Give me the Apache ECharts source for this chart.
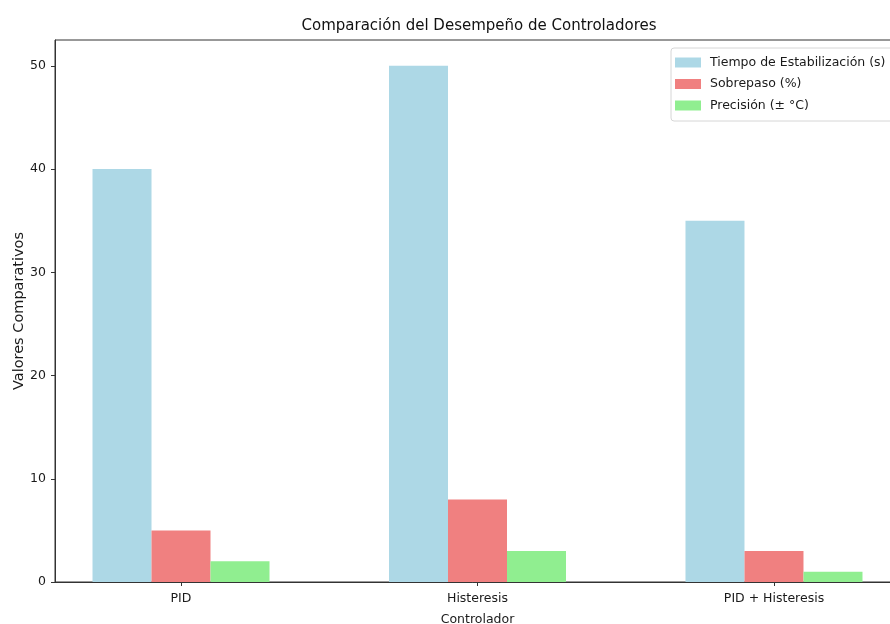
<!DOCTYPE html>
<html>
<head>
<meta charset="utf-8">
<script src="https://cdn.jsdelivr.net/npm/echarts@6/dist/echarts.min.js"></script>
<style>
  html, body { margin: 0; padding: 0; background: #fff; }
  #chart { width: 890px; height: 624px; }
</style>
</head>
<body>
<div id="chart"></div>
<script>
const categories = ["PID", "Histeresis", "PID + Histeresis"];
const seriesNames = ["Tiempo de Estabilización (s)", "Sobrepaso (%)", "Precisión (± °C)"];
const tiempo = [40, 50, 35];
const sobrepaso = [5, 8, 3];
const precision = [2, 3, 1];
const yTicks = [0, 10, 20, 30, 40, 50];

const colors = ["#ADD8E6", "#F08080", "#90EE90"];
const font = "DejaVu Sans";
const chart = echarts.init(document.getElementById("chart"));

// categories sit at integer positions on a value axis, like matplotlib
const xPositions = categories.map((c, i) => i);
const toPoints = (vals) => vals.map((v, i) => [xPositions[i], v]);

chart.setOption({
  animation: false,
  title: {
    text: "Comparación del Desempeño de Controladores",
    left: 474, top: 14, textAlign: "center",
    textStyle: { fontFamily: font, fontSize: 15, fontWeight: "normal", color: "#111" }
  },
  legend: {
    orient: "vertical",
    left: 671, top: 48,
    padding: [8, 8, 9, 4],
    itemWidth: 26, itemHeight: 10, itemGap: 8.5,
    backgroundColor: "#fff",
    borderColor: "#d6d6d6", borderWidth: 1, borderRadius: 3,
    icon: "rect",
    textStyle: { fontFamily: font, fontSize: 12.5, color: "#1a1a1a", padding: [0, 0, 0, 4] },
    data: seriesNames
  },
  grid: {
    left: 55, top: 40, bottom: 42, right: -10,
    outerBoundsMode: "none", containLabel: false,
    show: true, borderColor: "#333", borderWidth: 1, backgroundColor: "transparent"
  },
  xAxis: {
    type: "value", min: -0.425, max: 2.425,
    name: "Controlador", nameLocation: "middle", nameGap: 31,
    nameTextStyle: { fontFamily: font, fontSize: 12.5, color: "#1a1a1a" },
    axisLine: { show: true, onZero: false, lineStyle: { color: "#333" } },
    axisTick: { show: true, length: 4, customValues: xPositions, lineStyle: { color: "#333" } },
    axisLabel: {
      customValues: xPositions, margin: 10,
      fontFamily: font, fontSize: 12.5, color: "#1a1a1a",
      formatter: (v) => categories[Math.round(v)]
    },
    splitLine: { show: false }
  },
  yAxis: {
    type: "value", min: 0, max: 52.5,
    name: "Valores Comparativos", nameLocation: "middle", nameGap: 28.5, nameRotate: 90,
    nameMoveOverlap: false,
    nameTextStyle: { fontFamily: font, fontSize: 14.5, color: "#1a1a1a" },
    axisLine: { show: true, onZero: false, lineStyle: { color: "#333" } },
    axisTick: { show: true, length: 4, customValues: yTicks, lineStyle: { color: "#333" } },
    axisLabel: { customValues: yTicks, margin: 9, fontFamily: font, fontSize: 12.5, color: "#1a1a1a" },
    splitLine: { show: false }
  },
  series: [
    { name: seriesNames[0], type: "bar", data: toPoints(tiempo), barWidth: 59, barGap: "0%", itemStyle: { color: colors[0] } },
    { name: seriesNames[1], type: "bar", data: toPoints(sobrepaso), barWidth: 59, barGap: "0%", itemStyle: { color: colors[1] } },
    { name: seriesNames[2], type: "bar", data: toPoints(precision), barWidth: 59, barGap: "0%", itemStyle: { color: colors[2] } }
  ]
});
</script>
</body>
</html>
